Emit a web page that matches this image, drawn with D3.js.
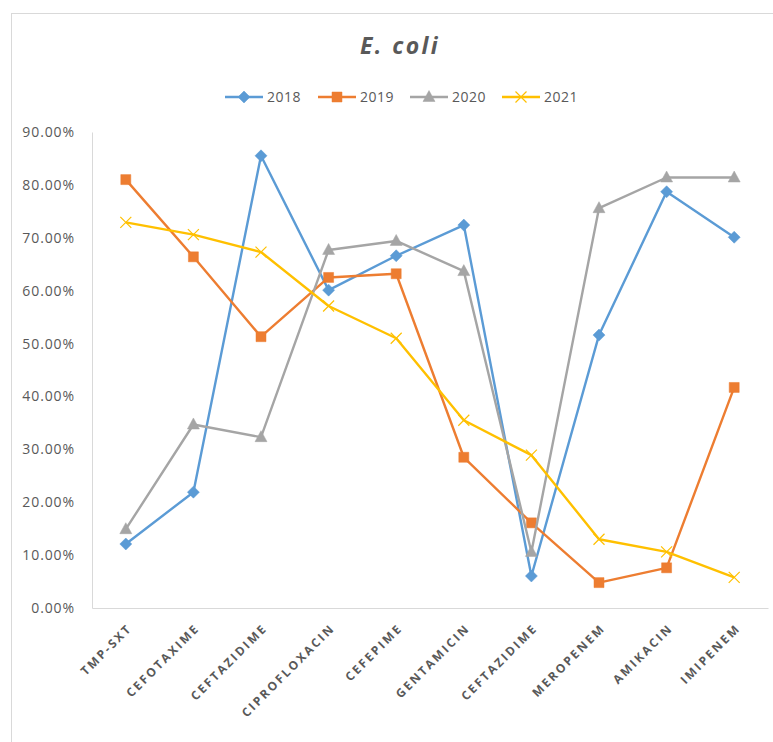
<!DOCTYPE html>
<html>
<head>
<meta charset="utf-8">
<script src="https://cdn.jsdelivr.net/npm/d3@7"></script>
<style>
  html, body { margin: 0; padding: 0; background: #fff; }
  svg { display: block; }
</style>
</head>
<body>
<div id="chart"></div>
<script>
const categories = ["TMP-SXT", "CEFOTAXIME", "CEFTAZIDIME", "CIPROFLOXACIN", "CEFEPIME", "GENTAMICIN", "CEFTAZIDIME ", "MEROPENEM", "AMIKACIN", "IMIPENEM"];
const seriesNames = ["2018", "2019", "2020", "2021"];
const values2018 = [0.121, 0.219, 0.855, 0.601, 0.666, 0.724, 0.0605, 0.516, 0.787, 0.701];
const values2019 = [0.810, 0.664, 0.513, 0.625, 0.632, 0.285, 0.161, 0.048, 0.076, 0.417];
const values2020 = [0.149, 0.347, 0.323, 0.677, 0.694, 0.637, 0.106, 0.756, 0.814, 0.814];
const values2021 = [0.729, 0.706, 0.673, 0.571, 0.510, 0.355, 0.289, 0.130, 0.106, 0.058];
const yTicks = [0, 0.1, 0.2, 0.3, 0.4, 0.5, 0.6, 0.7, 0.8, 0.9];
const colors = ["#5B9BD5", "#ED7D31", "#A5A5A5", "#FFC000"];
const markers = ["diamond", "square", "triangle", "x"];
const allValues = [values2018, values2019, values2020, values2021];

const W = 773, H = 742;
const plot = { left: 92, right: 768, top: 132, bottom: 608 };

const svg = d3.select("#chart").append("svg").attr("width", W).attr("height", H);

// outer chart border
svg.append("rect").attr("x", 11.5).attr("y", 13.5).attr("width", 800).attr("height", 800)
  .attr("fill", "#fff").attr("stroke", "#d9d9d9").attr("stroke-width", 1);

const x = d3.scaleBand().domain(categories).range([plot.left, plot.right]);
const y = d3.scaleLinear().domain([0, 0.9]).range([plot.bottom, plot.top]);

// title
svg.append("text").attr("x", 400).attr("y", 54).attr("text-anchor", "middle")
  .attr("font-family", "'Open Sans', sans-serif").attr("font-size", 23)
  .attr("font-weight", "bold").attr("font-style", "italic").attr("letter-spacing", 2.4)
  .attr("fill", "#595959").text("E. coli");

// axes
const yAxis = svg.append("g").attr("transform", `translate(${plot.left},0)`)
  .call(d3.axisLeft(y).tickValues(yTicks).tickFormat(d3.format(".2%")).tickSize(0).tickPadding(17));
yAxis.select(".domain").attr("stroke", "#d9d9d9");
yAxis.selectAll("text").attr("font-family", "'Open Sans', sans-serif").attr("font-size", 14)
  .attr("letter-spacing", 0.9).attr("fill", "#595959");

const xAxis = svg.append("g").attr("transform", `translate(0,${plot.bottom})`)
  .call(d3.axisBottom(x).tickSize(0).tickPadding(0));
xAxis.select(".domain").attr("stroke", "#d9d9d9");
xAxis.selectAll("text")
  .attr("font-family", "'Open Sans', sans-serif").attr("font-size", 12).attr("font-weight", "bold")
  .attr("letter-spacing", 2.2).attr("fill", "#595959")
  .attr("text-anchor", "end").attr("dy", 0)
  .attr("transform", "translate(7,21) rotate(-45)");

function markerPath(type) {
  if (type === "diamond") return "M0,-6L6,0L0,6L-6,0Z";
  if (type === "square") return "M-5,-5H5V5H-5Z";
  if (type === "triangle") return "M0,-6.5L6,4.5L-6,4.5Z";
  return "M-5.5,-5.5L5.5,5.5M-5.5,5.5L5.5,-5.5";
}

const line = d3.line().x((d, i) => x(categories[i]) + x.bandwidth() / 2).y(d => y(d));

allValues.forEach((vals, s) => {
  const g = svg.append("g");
  g.append("path").datum(vals).attr("d", line).attr("fill", "none")
    .attr("stroke", colors[s]).attr("stroke-width", 2.4).attr("stroke-linejoin", "round");
  g.selectAll("path.m").data(vals).enter().append("path").attr("class", "m")
    .attr("transform", (d, i) => `translate(${x(categories[i]) + x.bandwidth() / 2},${y(d)})`)
    .attr("d", markerPath(markers[s]))
    .attr("fill", markers[s] === "x" ? "none" : colors[s])
    .attr("stroke", colors[s]).attr("stroke-width", markers[s] === "x" ? 1.2 : 0.5);
});

// legend
const legendX = [225, 318, 410, 502];
seriesNames.forEach((name, s) => {
  const g = svg.append("g").attr("transform", `translate(${legendX[s]},97)`);
  g.append("line").attr("x1", 0).attr("x2", 38).attr("y1", 0).attr("y2", 0)
    .attr("stroke", colors[s]).attr("stroke-width", 2.4);
  g.append("path").attr("transform", "translate(19,0)").attr("d", markerPath(markers[s]))
    .attr("fill", markers[s] === "x" ? "none" : colors[s])
    .attr("stroke", colors[s]).attr("stroke-width", markers[s] === "x" ? 1.2 : 0.5);
  g.append("text").attr("x", 42).attr("y", 0).attr("dy", "0.35em")
    .attr("font-family", "'Open Sans', sans-serif").attr("font-size", 14).attr("letter-spacing", 0.5)
    .attr("fill", "#595959")
    .text(name);
});
</script>
</body>
</html>
